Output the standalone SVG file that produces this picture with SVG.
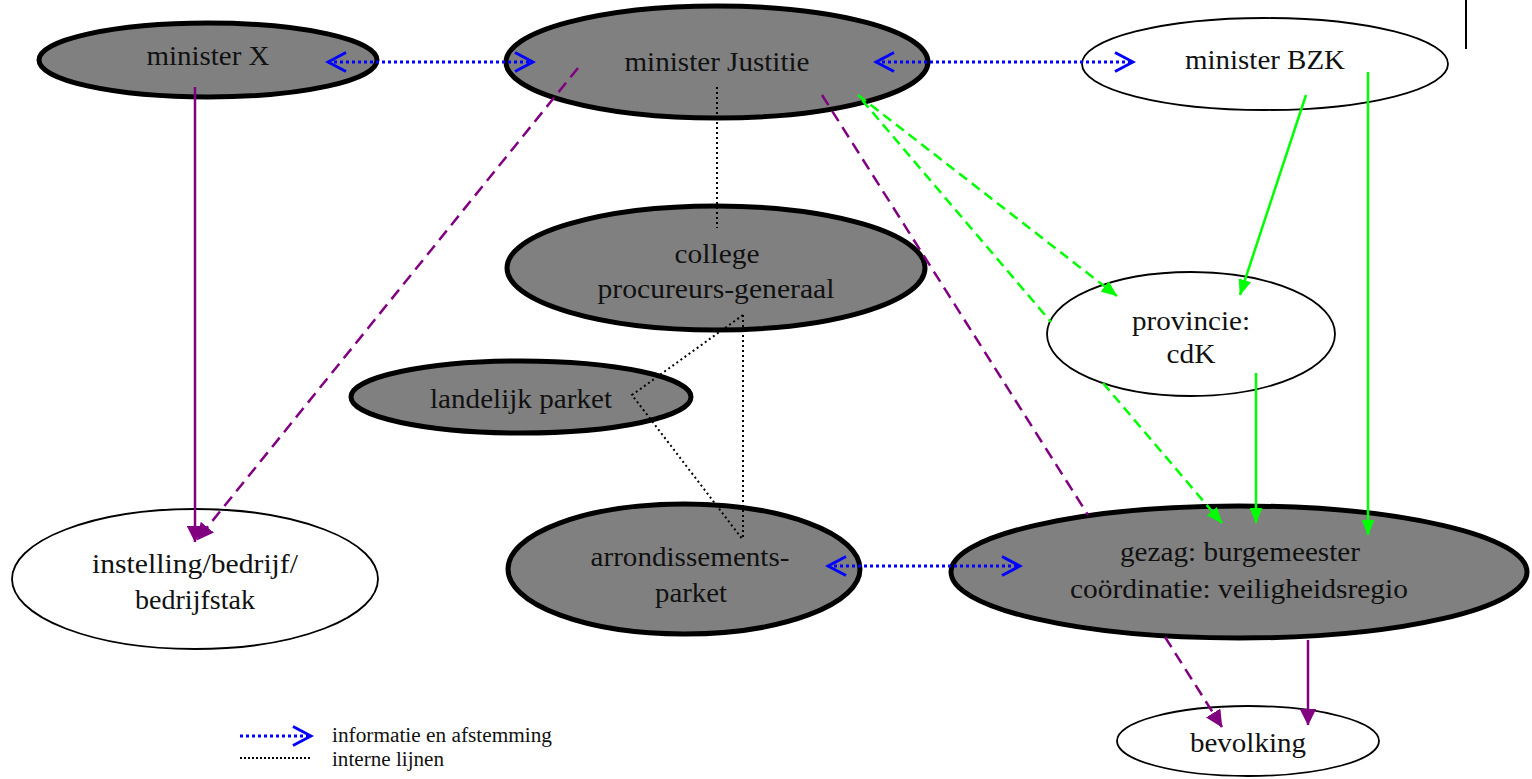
<svg xmlns="http://www.w3.org/2000/svg" width="1532" height="779" viewBox="0 0 1532 779">
<style>
.gn{fill:#808080;stroke:#000;stroke-width:5}
.wn{fill:#fff;stroke:#000;stroke-width:1.8}
.t{font-family:"Liberation Serif","Times New Roman",serif;font-size:27px;fill:#111;text-anchor:middle}
.lt{font-family:"Liberation Serif","Times New Roman",serif;font-size:20px;fill:#111}
.info{stroke:#0000ff;stroke-width:3;stroke-dasharray:3 3;fill:none;marker-start:url(#chev);marker-end:url(#chev)}
.info1{stroke:#0000ff;stroke-width:3;stroke-dasharray:3 3;fill:none;marker-end:url(#chev)}
.intern{stroke:#000;stroke-width:2;stroke-dasharray:2 3;fill:none}
.pd{stroke:#800080;stroke-width:2.5;stroke-dasharray:12 7;fill:none}
.ps{stroke:#800080;stroke-width:2.5;fill:none}
.gd{stroke:#00ff00;stroke-width:2.5;stroke-dasharray:10 6;fill:none}
.gs{stroke:#00ff00;stroke-width:2.5;fill:none}
</style>
<defs>
<marker id="chev" markerUnits="userSpaceOnUse" viewBox="0 0 22 22" markerWidth="22" markerHeight="22" refX="19" refY="11" orient="auto-start-reverse">
<path d="M1,1.5 L19,11 L1,20.5" fill="none" stroke="#0000ff" stroke-width="3" stroke-dasharray="none"/>
</marker>
<marker id="ga" markerUnits="userSpaceOnUse" viewBox="0 0 16 13" markerWidth="16" markerHeight="13" refX="15.5" refY="6.5" orient="auto">
<path d="M0,0 L16,6.5 L0,13 z" fill="#00ff00"/>
</marker>
<marker id="pa" markerUnits="userSpaceOnUse" viewBox="0 0 17 17" markerWidth="17" markerHeight="17" refX="16.5" refY="8.5" orient="auto">
<path d="M0,0 L17,8.5 L0,17 z" fill="#800080"/>
</marker>
</defs>
<rect width="1532" height="779" fill="#fff"/>
<line x1="1466" y1="0" x2="1466" y2="49" stroke="#000" stroke-width="2"/>

<g id="node-minister-x">
<ellipse class="gn" cx="208" cy="60" rx="169" ry="37"/>
<text class="t" x="208" y="65" textLength="123" lengthAdjust="spacingAndGlyphs">minister X</text>
</g>
<g id="node-minister-justitie">
<ellipse class="gn" cx="717" cy="62" rx="211" ry="56"/>
<text class="t" x="717" y="71" textLength="185" lengthAdjust="spacingAndGlyphs">minister Justitie</text>
</g>
<g id="node-minister-bzk">
<ellipse class="wn" cx="1265" cy="64" rx="183" ry="46"/>
<text class="t" x="1265" y="69" textLength="160" lengthAdjust="spacingAndGlyphs">minister BZK</text>
</g>
<g id="node-college">
<ellipse class="gn" cx="716" cy="268" rx="209" ry="62"/>
<text class="t" x="717" y="263" textLength="85" lengthAdjust="spacingAndGlyphs">college</text>
<text class="t" x="716" y="298" textLength="237" lengthAdjust="spacingAndGlyphs">procureurs-generaal</text>
</g>
<g id="node-landelijk-parket">
<ellipse class="gn" cx="521" cy="397" rx="170" ry="36"/>
<text class="t" x="521" y="408" textLength="182" lengthAdjust="spacingAndGlyphs">landelijk parket</text>
</g>
<g id="node-provincie">
<ellipse class="wn" cx="1191" cy="334" rx="144" ry="62"/>
<text class="t" x="1191" y="330" textLength="118" lengthAdjust="spacingAndGlyphs">provincie:</text>
<text class="t" x="1191" y="363" textLength="49" lengthAdjust="spacingAndGlyphs">cdK</text>
</g>
<g id="node-instelling">
<ellipse class="wn" cx="195" cy="579" rx="183" ry="70"/>
<text class="t" x="195" y="573" textLength="206" lengthAdjust="spacingAndGlyphs">instelling/bedrijf/</text>
<text class="t" x="195" y="609" textLength="120" lengthAdjust="spacingAndGlyphs">bedrijfstak</text>
</g>
<g id="node-arrondissementsparket">
<ellipse class="gn" cx="684" cy="569" rx="176" ry="65"/>
<text class="t" x="690" y="566" textLength="199" lengthAdjust="spacingAndGlyphs">arrondissements-</text>
<text class="t" x="691" y="602" textLength="72" lengthAdjust="spacingAndGlyphs">parket</text>
</g>
<g id="node-gezag">
<ellipse class="gn" cx="1239" cy="572" rx="288" ry="66"/>
<text class="t" x="1240" y="561" textLength="240" lengthAdjust="spacingAndGlyphs">gezag: burgemeester</text>
<text class="t" x="1239" y="598" textLength="338" lengthAdjust="spacingAndGlyphs">coördinatie: veiligheidsregio</text>
</g>
<g id="node-bevolking">
<ellipse class="wn" cx="1248" cy="741" rx="131" ry="35"/>
<text class="t" x="1248" y="752" textLength="116" lengthAdjust="spacingAndGlyphs">bevolking</text>
</g>

<g id="connectors">
<line class="info" x1="328" y1="62" x2="533" y2="62"/>
<line class="info" x1="876" y1="62" x2="1133" y2="62"/>
<line class="info" x1="828" y1="566" x2="1020" y2="566"/>
<line class="intern" x1="717" y1="87" x2="717" y2="228"/>
<line class="intern" x1="743" y1="315" x2="743" y2="540"/>
<polyline class="intern" points="743,315 632,395 743,540"/>
<line class="ps" x1="195" y1="87" x2="195" y2="542" marker-end="url(#pa)"/>
<line class="pd" x1="578" y1="68" x2="197" y2="540" marker-end="url(#pa)"/>
<line class="pd" x1="822" y1="95" x2="1088" y2="515"/>
<line class="pd" x1="1165" y1="637" x2="1222" y2="727" marker-end="url(#pa)"/>
<line class="ps" x1="1308" y1="640" x2="1308" y2="725" marker-end="url(#pa)"/>
<line class="gd" x1="858" y1="95" x2="1117" y2="296" marker-end="url(#ga)"/>
<line class="gd" x1="862" y1="100" x2="1051" y2="322"/>
<line class="gd" x1="1103" y1="383" x2="1222" y2="523" marker-end="url(#ga)"/>
<line class="gs" x1="1306" y1="95" x2="1240" y2="295" marker-end="url(#ga)"/>
<line class="gs" x1="1368" y1="72" x2="1368" y2="535" marker-end="url(#ga)"/>
<line class="gs" x1="1256" y1="373" x2="1256" y2="523" marker-end="url(#ga)"/>
</g>

<g id="legend">
<line class="info1" x1="240" y1="736" x2="311" y2="736"/>
<line x1="240" y1="758" x2="310" y2="758" stroke="#000" stroke-width="2" stroke-dasharray="2 2"/>
<text class="lt" x="332" y="742" textLength="220" lengthAdjust="spacingAndGlyphs">informatie en afstemming</text>
<text class="lt" x="332" y="766" textLength="112" lengthAdjust="spacingAndGlyphs">interne lijnen</text>
</g>
</svg>
